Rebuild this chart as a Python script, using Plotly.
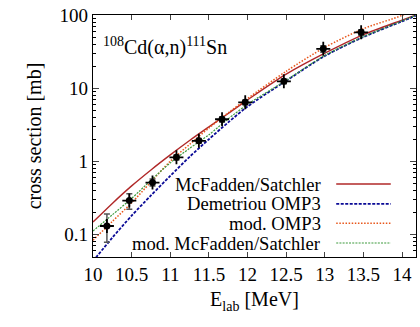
import plotly.graph_objects as go

# measured data
exp_e = [10.18, 10.47, 10.77, 11.08, 11.37, 11.67, 11.97, 12.47, 12.98, 13.47]
exp_cs = [0.13, 0.29, 0.51, 1.13, 1.9, 3.75, 6.4, 12.4, 34.5, 58.0]
exp_err_hi = [0.06, 0.07, 0.06, 0.09, 0.14, 0.3, 0.5, 0.9, 3.5, 5.0]
exp_err_lo = [0.052, 0.07, 0.05, 0.09, 0.14, 0.3, 0.5, 0.9, 3.5, 5.0]

# model curves
model_e = [10.0, 10.25, 10.5, 10.75, 11.0, 11.25, 11.5, 11.75, 12.0, 12.5, 13.0, 13.5, 14.0, 14.18]
mcf_cs = [0.147, 0.265, 0.46, 0.76, 1.22, 1.92, 2.95, 4.5, 6.9, 15.5, 30.0, 54.0, 85.0, 100.0]
dem_cs = [0.043, 0.09, 0.18, 0.34, 0.63, 1.15, 2.0, 3.4, 5.6, 12.6, 27.5, 50.0, 82.0, 98.0]
modomp_cs = [0.083, 0.15, 0.27, 0.52, 1.0, 1.7, 2.85, 4.6, 7.2, 17.0, 36.0, 65.0, 99.0, 125.0]
modmcf_cs = [0.111, 0.185, 0.31, 0.55, 0.95, 1.5, 2.3, 3.8, 6.0, 12.8, 28.0, 50.5, 83.0, 99.0]

legend_names = ["McFadden/Satchler", "Demetriou OMP3", "mod. OMP3", "mod. McFadden/Satchler"]
x_ticks = [10, 10.5, 11, 11.5, 12, 12.5, 13, 13.5, 14]
x_tick_text = ["10", "10.5", "11", "11.5", "12", "12.5", "13", "13.5", "14"]
y_ticks = [0.1, 1, 10, 100]
y_tick_text = ["0.1", "1", "10", "100"]
y_minor = [0.05, 0.06, 0.07, 0.08, 0.09,
           0.2, 0.3, 0.4, 0.5, 0.6, 0.7, 0.8, 0.9,
           2, 3, 4, 5, 6, 7, 8, 9,
           20, 30, 40, 50, 60, 70, 80, 90]

FONT = "Liberation Serif"
colors = ["#b02828", "#0a0a96", "#e8561a", "#3c9a3c"]
dashes = ["solid", "3px,1.5px", "1.5px,1.6px", "2px,1.2px"]
widths = [1.4, 1.8, 1.5, 1.2]

fig = go.Figure()
for ys, c, d, w, n in zip([mcf_cs, dem_cs, modomp_cs, modmcf_cs], colors, dashes, widths, legend_names):
    fig.add_trace(go.Scatter(x=model_e, y=ys, mode="lines", name=n,
                             line=dict(color=c, dash=d, width=w, shape="spline", smoothing=0.8),
                             showlegend=False))

fig.add_trace(go.Scatter(
    x=exp_e, y=exp_cs, mode="markers",
    marker=dict(symbol="circle", size=7, color="black"),
    error_y=dict(type="data", symmetric=False, array=exp_err_hi, arrayminus=exp_err_lo,
                 color="#555555", thickness=1.5, width=3),
    showlegend=False))
fig.add_trace(go.Scatter(
    x=exp_e, y=exp_cs, mode="markers",
    marker=dict(symbol="cross-thin", size=10, line=dict(color="black", width=1.8)),
    showlegend=False))

# invisible trace to anchor the minor-tick overlay axis
fig.add_trace(go.Scatter(x=[exp_e[0]], y=[exp_cs[0]], yaxis="y2", mode="markers",
                         marker=dict(opacity=0), showlegend=False, hoverinfo="skip"))

# gnuplot-style key (text left, sample right)
leg_y = [184, 203.8, 223.3, 243]
for name, c, d, w, yp in zip(legend_names, colors, dashes, widths, leg_y):
    yy = 1 - (yp - 15) / (257 - 15)
    fig.add_annotation(xref="paper", yref="paper", x=(323 - 93) / (415.7 - 93), y=yy,
                       text=name, showarrow=False, xanchor="right", yanchor="middle",
                       font=dict(family=FONT, size=18.6, color="black"))
    fig.add_shape(type="line", xref="paper", yref="paper",
                  x0=(336 - 93) / (415.7 - 93), x1=(390.5 - 93) / (415.7 - 93), y0=yy, y1=yy,
                  line=dict(color=c, dash=d, width=w))

fig.add_annotation(xref="paper", yref="paper", x=(101 - 93) / (415.7 - 93),
                   y=1 - (46 - 15) / (257 - 15),
                   text="<sup>108</sup>Cd(α,n)<sup>111</sup>Sn", showarrow=False,
                   xanchor="left", yanchor="middle", font=dict(family=FONT, size=20, color="black"))

fig.update_layout(
    width=420, height=327, margin=dict(l=93, r=4, t=15, b=70),
    plot_bgcolor="white", paper_bgcolor="white", showlegend=False,
    xaxis=dict(range=[10, 14.18], tickvals=x_ticks, ticktext=x_tick_text,
               ticks="inside", ticklen=5, mirror="ticks", showline=True, linecolor="black",
               linewidth=1.3, showgrid=False, zeroline=False,
               tickfont=dict(family=FONT, size=19, color="black"),
               title=dict(text="E<sub>lab</sub> [MeV]", font=dict(family=FONT, size=20, color="black"),
                          standoff=8)),
    yaxis=dict(type="log", range=[-1.31, 2], tickvals=y_ticks, ticktext=y_tick_text,
               ticks="inside", ticklen=6, mirror="ticks", showline=True, linecolor="black",
               linewidth=1.3, showgrid=False, zeroline=False,
               tickfont=dict(family=FONT, size=19, color="black"),
               title=dict(text="cross section [mb]", font=dict(family=FONT, size=20, color="black"),
                          standoff=12)),
    yaxis2=dict(type="log", range=[-1.31, 2], overlaying="y", side="left",
                tickvals=y_minor, showticklabels=False, ticks="inside", ticklen=3,
                tickcolor="black", mirror="ticks", showline=False, showgrid=False, zeroline=False),
)

fig.write_html("out.html", config={"displayModeBar": False},
               post_script="document.body.style.margin='0';")
